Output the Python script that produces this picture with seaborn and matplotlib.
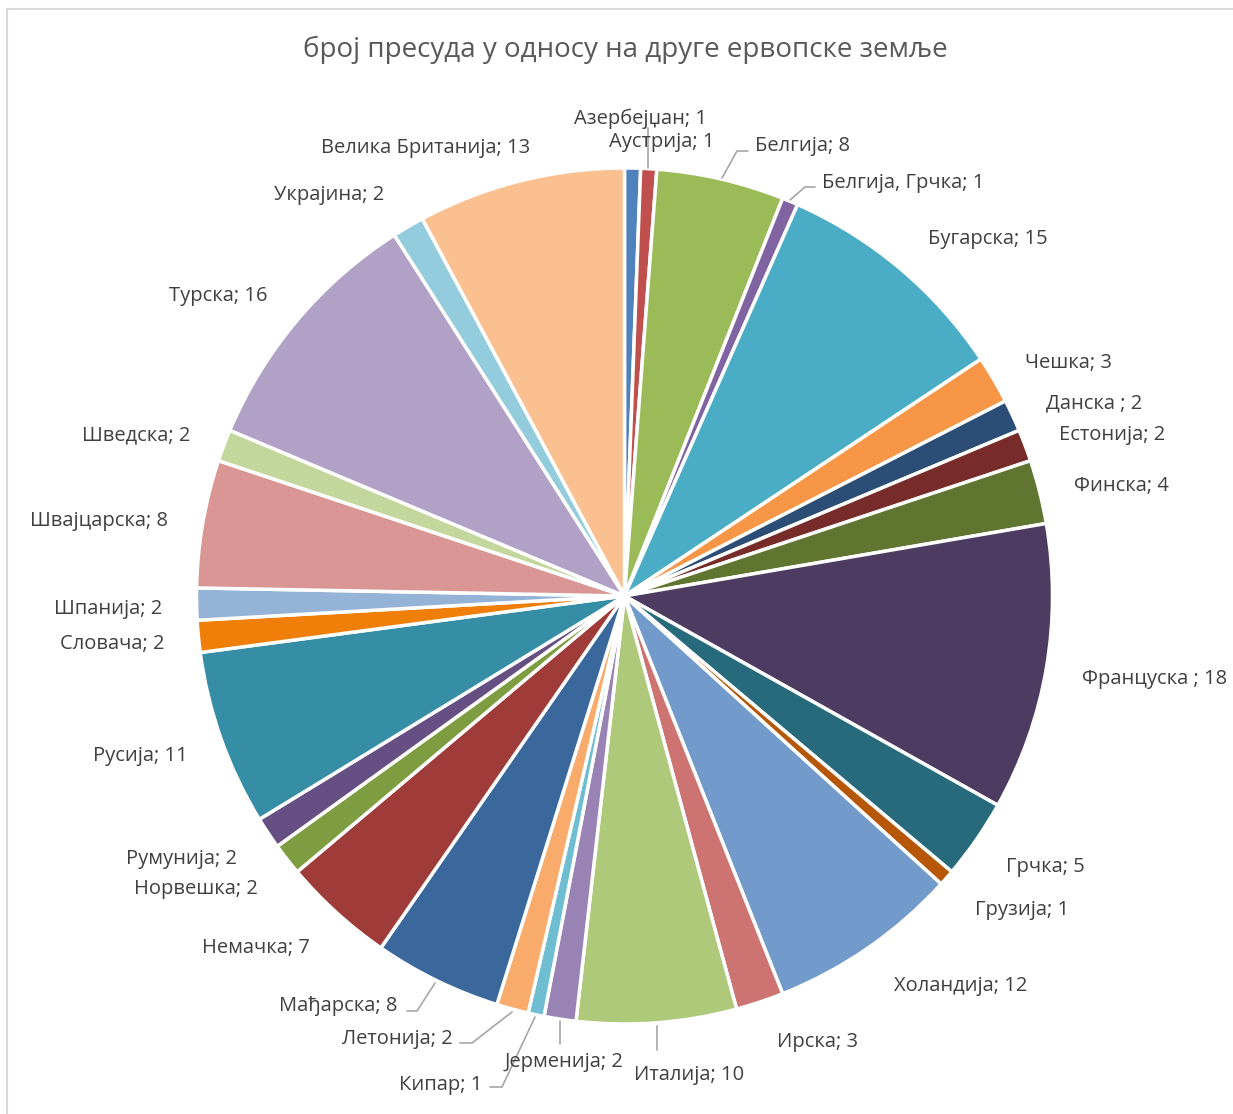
import matplotlib
matplotlib.use("Agg")
import matplotlib.pyplot as plt
import seaborn as sns
import numpy as np

# podaci
zemlje = ['Азербејџан', 'Аустрија', 'Белгија', 'Белгија, Грчка', 'Бугарска', 'Чешка',
          'Данска ', 'Естонија', 'Финска', 'Француска ', 'Грчка', 'Грузија', 'Холандија',
          'Ирска', 'Италија', 'Јерменија', 'Кипар', 'Летонија', 'Мађарска', 'Немачка',
          'Норвешка', 'Румунија', 'Русија', 'Словача', 'Шпанија', 'Швајцарска',
          'Шведска', 'Турска', 'Украјина', 'Велика Британија']
presude = [1, 1, 8, 1, 15, 3, 2, 2, 4, 18, 5, 1, 12, 3, 10, 2, 1, 2, 8, 7,
           2, 2, 11, 2, 2, 8, 2, 16, 2, 13]

boje = ['#4F81BD', '#C0504D', '#9BBB59', '#8064A2', '#4BACC6', '#F79646',
        '#2C4D75', '#772C2A', '#5F7530', '#4D3B62', '#276A7C', '#B65708',
        '#729ACA', '#CD7371', '#AFC97A', '#9983B5', '#6FBDD1', '#F9AB6B',
        '#3A679C', '#9F3B38', '#7E9D40', '#664F83', '#358EA6', '#F07F09',
        '#95B3D7', '#D99694', '#C3D69B', '#B2A1C7', '#93CDDD', '#FAC090']

# raspored (pikseli slike)
W, H = 1233, 1114
CX, CY, R = 624.5, 596, 428

label_px = [(640, 117), (662, 140), (802, 144), (903, 181), (988, 237), (1068, 361),
            (1094, 401), (1112, 433), (1121, 484), (1155, 677), (1045, 865), (1022, 908),
            (961, 984), (818, 1040), (689, 1073), (564, 1060), (441, 1083), (397, 1037),
            (338, 1004), (256, 946), (196, 887), (181, 857), (140, 754), (112, 642),
            (108, 607), (99, 519), (136, 433), (218, 294), (329, 193), (426, 146)]

leaders = {
    1: [(648, 168), (648, 128)],
    2: [(722, 178), (737, 151), (748, 151)],
    3: [(790, 200), (805, 187), (815, 187)],
    14: [(657, 1026), (657, 1050)],
    15: [(560, 1021), (560, 1044)],
    16: [(535, 1017), (502, 1087), (490, 1087)],
    17: [(512, 1012), (472, 1043), (460, 1043)],
    18: [(435, 983), (417, 1011), (407, 1011)],
}


def to_data(px, py):
    return (px - CX) / R, (CY - py) / R


sns.set_theme(style='white')
plt.rcParams['font.family'] = ['Open Sans', 'DejaVu Sans']

fig = plt.figure(figsize=(W / 100, H / 100), dpi=100)
ax = fig.add_axes([0, 0, 1, 1])

ax.pie(presude, colors=boje, startangle=90, counterclock=False,
       wedgeprops=dict(edgecolor='white', linewidth=2.5))

x0, y0 = to_data(0, H)
x1, y1 = to_data(W, 0)
ax.set_xlim(x0, x1)
ax.set_ylim(y0, y1)
ax.set_aspect('auto')
ax.axis('off')

tekst = '#404040'
for i, (z, v) in enumerate(zip(zemlje, presude)):
    tx, ty = to_data(label_px[i][0], label_px[i][1] + 2)
    ax.text(tx, ty, f'{z}; {v}', ha='center', va='center', fontsize=14.5, color=tekst)

for i, pts in leaders.items():
    xs, ys = zip(*[to_data(px, py) for px, py in pts])
    ax.plot(xs, ys, color='#A6A6A6', linewidth=1.2)

fig.text(625 / W, 1 - 50 / H, 'број пресуда у односу на друге ервопске земље',
         ha='center', va='center', fontsize=20, color='#595959')

# okvir grafikona
bx, by = to_data(7, 9)
ax.plot([bx, bx, x1 + 1], [y0 - 1, by, by], color='#D9D9D9', linewidth=1.5)

fig.savefig('out.png', dpi=100)
